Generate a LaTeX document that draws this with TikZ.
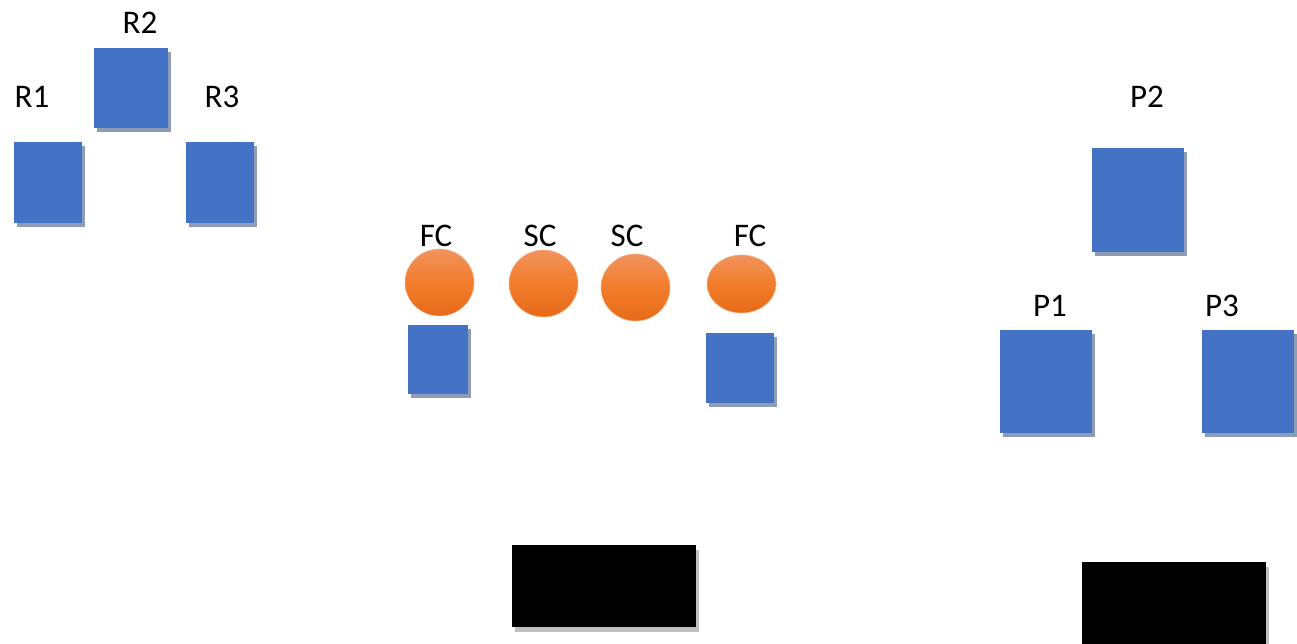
\documentclass[tikz,border=0pt]{standalone}
\usepackage{fontspec}
\setmainfont{Carlito}
\usetikzlibrary{shapes.geometric,shadows}
\definecolor{boxblue}{HTML}{4472C4}
\definecolor{bshadow}{HTML}{8E9CB5}
\definecolor{gshadow}{HTML}{C0C0C0}
\definecolor{orTop}{HTML}{F0935E}
\definecolor{orMid}{HTML}{F27D2B}
\definecolor{orBot}{HTML}{E66A18}
\tikzset{
  bluebox/.style={rectangle, fill=boxblue, inner sep=0pt,
    drop shadow={shadow xshift=3pt, shadow yshift=-4pt, fill=bshadow, opacity=1}},
  blackbox/.style={rectangle, fill=black, inner sep=0pt,
    drop shadow={shadow xshift=3pt, shadow yshift=-5pt, fill=gshadow, opacity=1}},
  orangeball/.style={ellipse, inner sep=0pt, draw=orTop!70!white, line width=0.6pt,
    top color=orTop, bottom color=orBot, middle color=orMid},
  lbl/.style={inner sep=0pt, font=\fontsize{33}{35}\selectfont}
}
\begin{document}
\begin{tikzpicture}[x=1pt,y=-1pt]
\useasboundingbox (0,0) rectangle (1297,643);
% left group
\node[bluebox, minimum width=68pt, minimum height=81pt] (r1) at (48,182.5) {};
\node[bluebox, minimum width=74pt, minimum height=80pt] (r2) at (131,88) {};
\node[bluebox, minimum width=68pt, minimum height=81pt] (r3) at (220,182.5) {};
\node[lbl] (lr1) at (32,97) {R1};
\node[lbl] (lr2) at (140,23) {R2};
\node[lbl] (lr3) at (222,97) {R3};
% middle group
\node[orangeball, minimum width=69pt, minimum height=67pt] (c1) at (439.5,282.5) {};
\node[orangeball, minimum width=69pt, minimum height=67pt] (c2) at (543.5,283.5) {};
\node[orangeball, minimum width=69pt, minimum height=67pt] (c3) at (635.5,287.5) {};
\node[orangeball, minimum width=69pt, minimum height=58pt] (c4) at (741.5,284) {};
\node[lbl] (lc1) at (436,235.5) {FC};
\node[lbl] (lc2) at (540,235.5) {SC};
\node[lbl] (lc3) at (627,235.5) {SC};
\node[lbl] (lc4) at (750,235.5) {FC};
\node[bluebox, minimum width=60pt, minimum height=69pt] (b1) at (438,359.5) {};
\node[bluebox, minimum width=68pt, minimum height=70pt] (b2) at (740,368) {};
% right group
\node[bluebox, minimum width=92pt, minimum height=104pt] (p2) at (1138,200) {};
\node[bluebox, minimum width=92pt, minimum height=103pt] (p1) at (1046,381.5) {};
\node[bluebox, minimum width=92pt, minimum height=103pt] (p3) at (1248,381.5) {};
\node[lbl] (lp2) at (1147,97) {P2};
\node[lbl] (lp1) at (1050,306) {P1};
\node[lbl] (lp3) at (1222,306) {P3};
% black boxes
\node[blackbox, minimum width=184pt, minimum height=82pt] (k1) at (604,586) {};
\node[blackbox, minimum width=184pt, minimum height=84pt] (k2) at (1174,604) {};
\end{tikzpicture}
\end{document}
